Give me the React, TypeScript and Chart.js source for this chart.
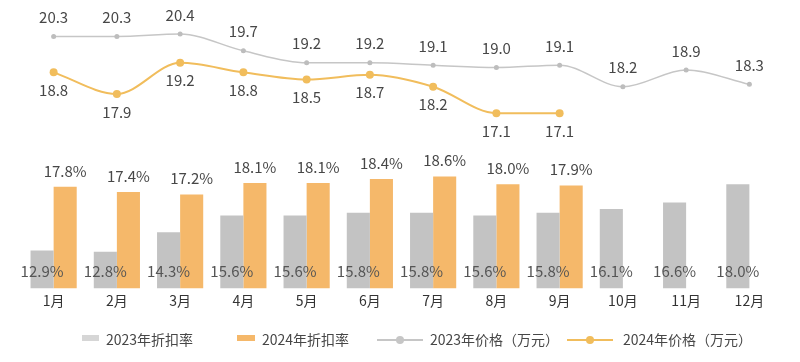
import React, { useEffect, useRef } from "react";
import { Chart, registerables } from "chart.js";

Chart.register(...registerables);

const categories = ["1月", "2月", "3月", "4月", "5月", "6月", "7月", "8月", "9月", "10月", "11月", "12月"];
const discount2023 = [12.9, 12.8, 14.3, 15.6, 15.6, 15.8, 15.8, 15.6, 15.8, 16.1, 16.6, 18.0];
const discount2024: (number | null)[] = [17.8, 17.4, 17.2, 18.1, 18.1, 18.4, 18.6, 18.0, 17.9, null, null, null];
const price2023 = [20.3, 20.3, 20.4, 19.7, 19.2, 19.2, 19.1, 19.0, 19.1, 18.2, 18.9, 18.3];
const price2024: (number | null)[] = [18.8, 17.9, 19.2, 18.8, 18.5, 18.7, 18.2, 17.1, 17.1, null, null, null];
const legendNames = ["2023年折扣率", "2024年折扣率", "2023年价格（万元）", "2024年价格（万元）"];

const GRAY_BAR = "#c3c3c3";
const ORANGE_BAR = "#f5b86a";
const GRAY_LINE = "#c6c6c6";
const ORANGE_LINE = "#f1bd5c";
const TEXT = "#474747";
const FONT = '"Noto Sans CJK SC", "Noto Sans", sans-serif';

const labelPlugin = {
  id: "customLabels",
  afterDatasetsDraw(chart: any) {
    const ctx = chart.ctx;
    const area = chart.chartArea;
    ctx.save();
    ctx.font = `15px ${FONT}`;
    ctx.textAlign = "center";
    ctx.textBaseline = "middle";
    ctx.fillStyle = TEXT;
    chart.data.datasets.forEach((ds: any, di: number) => {
      const meta = chart.getDatasetMeta(di);
      meta.data.forEach((el: any, i: number) => {
        const v = ds.data[i];
        if (v === null || v === undefined) return;
        if (di === 0) {
          ctx.fillStyle = "#555555";
          ctx.fillText(v.toFixed(1) + "%", el.x, area.bottom - 17);
        } else if (di === 1) {
          ctx.fillStyle = TEXT;
          ctx.fillText(v.toFixed(1) + "%", el.x, el.y - 16);
        } else if (di === 2) {
          ctx.fillStyle = TEXT;
          ctx.fillText(v.toFixed(1), el.x, el.y - 19);
        } else {
          ctx.fillStyle = TEXT;
          ctx.fillText(v.toFixed(1), el.x, el.y + 18);
        }
      });
    });
    ctx.restore();
  },
  afterDraw(chart: any) {
    const ctx = chart.ctx;
    ctx.save();
    ctx.font = `14px ${FONT}`;
    ctx.textBaseline = "middle";
    ctx.textAlign = "left";
    const cy = 340;
    ctx.fillStyle = "#d6d6d6";
    ctx.fillRect(82, cy - 5, 17, 6);
    ctx.fillStyle = TEXT;
    ctx.fillText(legendNames[0], 106, cy);
    ctx.fillStyle = ORANGE_BAR;
    ctx.fillRect(237, cy - 5, 18, 6);
    ctx.fillStyle = TEXT;
    ctx.fillText(legendNames[1], 262, cy);
    const drawLine = (x0: number, color: string, text: string, tx: number) => {
      ctx.strokeStyle = color;
      ctx.lineWidth = 2;
      ctx.beginPath();
      ctx.moveTo(x0, cy);
      ctx.lineTo(x0 + 46, cy);
      ctx.stroke();
      ctx.fillStyle = color;
      ctx.beginPath();
      ctx.arc(x0 + 23, cy, 4, 0, Math.PI * 2);
      ctx.fill();
      ctx.fillStyle = TEXT;
      ctx.fillText(text, tx, cy);
    };
    drawLine(377, GRAY_LINE, legendNames[2], 430);
    drawLine(567, ORANGE_LINE, legendNames[3], 623);
    ctx.restore();
  },
};

export default function App() {
  const ref = useRef<HTMLCanvasElement>(null);
  useEffect(() => {
    document.body.style.margin = "0";
    if (!ref.current) return;
    const chart = new Chart(ref.current, {
      type: "bar",
      data: {
        labels: categories,
        datasets: [
          {
            type: "bar",
            label: legendNames[0],
            data: discount2023,
            backgroundColor: GRAY_BAR,
            yAxisID: "y",
            order: 3,
          },
          {
            type: "bar",
            label: legendNames[1],
            data: discount2024,
            backgroundColor: ORANGE_BAR,
            yAxisID: "y",
            order: 3,
          },
          {
            type: "line",
            label: legendNames[2],
            data: price2023,
            borderColor: GRAY_LINE,
            backgroundColor: "#bdbdbd",
            borderWidth: 1.5,
            pointRadius: 2.5,
            pointBorderWidth: 0,
            cubicInterpolationMode: "monotone",
            yAxisID: "y1",
            order: 1,
          },
          {
            type: "line",
            label: legendNames[3],
            data: price2024,
            borderColor: ORANGE_LINE,
            backgroundColor: ORANGE_LINE,
            borderWidth: 2,
            pointRadius: 4,
            pointBorderWidth: 0,
            cubicInterpolationMode: "monotone",
            yAxisID: "y1",
            order: 1,
          },
        ] as any,
      },
      options: {
        animation: false,
        responsive: false,
        maintainAspectRatio: false,
        layout: { padding: { top: 10, left: 22, right: 19, bottom: 49 } },
        plugins: {
          legend: { display: false },
          tooltip: { enabled: false },
        },
        datasets: {
          bar: { categoryPercentage: 0.73, barPercentage: 1 },
        } as any,
        scales: {
          x: {
            grid: { display: false, drawTicks: false },
            border: { display: false },
            ticks: {
              color: "#333333",
              padding: 4,
              font: { size: 14, family: FONT },
              maxRotation: 0,
            },
          },
          y: { display: false, min: 10, max: 31.4 },
          y1: { display: false, min: 9.8, max: 21.4 },
        },
      },
      plugins: [labelPlugin],
    });
    return () => chart.destroy();
  }, []);
  return (
    <div style={{ width: 800, height: 362, background: "#ffffff" }}>
      <canvas ref={ref} width={800} height={362} style={{ display: "block" }} />
    </div>
  );
}
